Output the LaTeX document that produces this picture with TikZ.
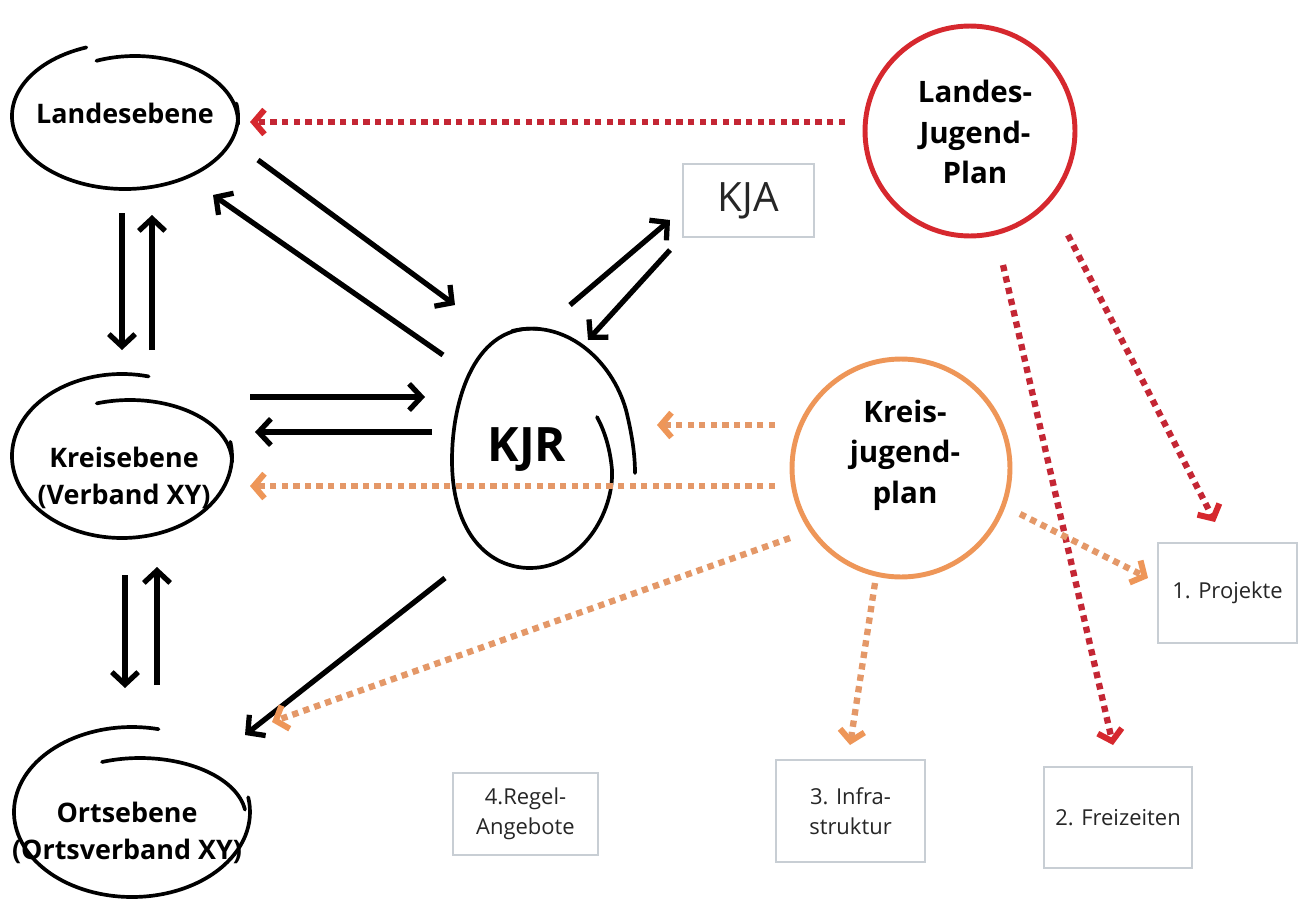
\documentclass[tikz,border=0pt]{standalone}
\usepackage{fontspec}
\setmainfont{Open Sans}
\usetikzlibrary{arrows.meta,calc}
\definecolor{lred}{RGB}{214,40,46}
\definecolor{dred}{RGB}{196,38,52}
\definecolor{lorange}{RGB}{238,150,88}
\definecolor{dorange}{RGB}{228,152,104}
\definecolor{boxgray}{RGB}{200,206,212}
\begin{document}
\begin{tikzpicture}[x=0.02cm,y=-0.02cm,
  scribble/.style={line width=2.1pt, line cap=round},
  lvl/.style={font=\bfseries\fontsize{15.3}{21.5}\selectfont, align=center, inner sep=0pt},
  plan/.style={circle, line width=2.8pt},
  plantext/.style={font=\bfseries\fontsize{16.8}{23}\selectfont, align=center, inner sep=0pt},
  tbox/.style={draw=boxgray, line width=1.1pt, align=center, inner sep=0pt, font=\fontsize{12.5}{17}\selectfont, text=black!85},
  blk/.style={line width=3pt, -{Straight Barb[length=7pt,width=15pt,line width=3pt]}},
  dotted red/.style={line width=3.6pt, color=dred, dash pattern=on 3.6pt off 3pt,
     -{Straight Barb[length=6pt,width=14pt,line width=3.4pt,color=lred]}},
  dotted orange/.style={line width=3.6pt, color=dorange, dash pattern=on 3.6pt off 3pt,
     -{Straight Barb[length=6pt,width=14pt,line width=3.4pt,color=lorange]}}
]
\useasboundingbox[fill=white] (0,0) rectangle (1298,906);

% level nodes
\node[lvl] (lande) at (125,113) {Landesebene};
\node[lvl] (kreis) at (124,478) {Kreisebene\\(Verband XY)};
\node[lvl] (orts) at (127,833) {Ortsebene\\(Ortsverband XY)};
\node[font=\bfseries\fontsize{27}{30}\selectfont, inner sep=0pt] (kjr) at (527,450) {KJR};

% hand drawn outlines
\draw[scribble] (125,116) ++(250:113 and 73) arc[start angle=250, end angle=-10, x radius=113, y radius=73];
\draw[scribble] (135,122) ++(248:103 and 66) arc[start angle=248, end angle=362, x radius=103, y radius=66];

\draw[scribble] (122,456) ++(284:110 and 82) arc[start angle=284, end angle=-10, x radius=110, y radius=82];
\draw[scribble] (130,462) ++(251:102 and 62) arc[start angle=251, end angle=360, x radius=102, y radius=62];

\draw[scribble] (132,812) ++(283:118 and 85) arc[start angle=283, end angle=-10, x radius=118, y radius=85];
\draw[scribble] (140,818) ++(249:106 and 60) arc[start angle=249, end angle=352, x radius=106, y radius=60];

% egg around KJR
\draw[scribble] (540,329) .. controls (475,322) and (452,400) .. (452,460)
  .. controls (452,535) and (490,568) .. (530,568)
  .. controls (582,568) and (614,512) .. (612,470)
  .. controls (610,447) and (604,430) .. (597,417);
\draw[scribble] (512,331) .. controls (565,318) and (612,360) .. (626,410)
  .. controls (633,438) and (635,458) .. (635,473);

% plan circles
\node[plan, draw=lred, minimum size=4.2cm] (ljp) at (970,131) {};
\node[plantext] (ljp-text) at (975,132) {Landes-\\Jugend-\\Plan};
\node[plan, draw=lorange, minimum size=4.36cm] (kjp) at (901,468) {};
\node[plantext] (kjp-text) at (905,455) {Kreis-\\jugend-\\plan};

% boxes
\node[tbox, minimum width=2.62cm, minimum height=1.46cm, font=\fontsize{23}{26}\selectfont] (kja) at (748.5,200.5) {KJA};
\node[tbox, minimum width=2.78cm, minimum height=2.0cm] (proj) at (1227.5,593) {1. Projekte};
\node[tbox, minimum width=2.96cm, minimum height=2.02cm] (frei) at (1118,817.5) {2. Freizeiten};
\node[tbox, minimum width=2.98cm, minimum height=2.04cm] (infra) at (850.5,811) {3. Infra-\\struktur};
\node[tbox, minimum width=2.9cm, minimum height=1.64cm] (regel) at (525.5,814) {4.Regel-\\Angebote};

% connector end points
\coordinate (lande-kjr-a) at (258,160);   \coordinate (lande-kjr-b) at (455,305);
\coordinate (kjr-lande-a) at (443,355);   \coordinate (kjr-lande-b) at (213,195);
\coordinate (lande-kreis-a) at (122,213); \coordinate (lande-kreis-b) at (122,350);
\coordinate (kreis-lande-a) at (152,350); \coordinate (kreis-lande-b) at (152,215);
\coordinate (kreis-kjr-a) at (250,397);   \coordinate (kreis-kjr-b) at (425,397);
\coordinate (kjr-kreis-a) at (432,432);   \coordinate (kjr-kreis-b) at (255,432);
\coordinate (kreis-orts-a) at (125,575);  \coordinate (kreis-orts-b) at (125,688);
\coordinate (orts-kreis-a) at (157,685);  \coordinate (orts-kreis-b) at (157,567);
\coordinate (kjr-orts-a) at (445,578);    \coordinate (kjr-orts-b) at (245,735);
\coordinate (kjr-kja-a) at (570,305);     \coordinate (kjr-kja-b) at (670,220);
\coordinate (kja-kjr-a) at (670,250);     \coordinate (kja-kjr-b) at (588,340);

\coordinate (ljp-lande-a) at (845,122);   \coordinate (ljp-lande-b) at (250,122);
\coordinate (ljp-frei-a) at (1003,265);   \coordinate (ljp-frei-b) at (1113,745);
\coordinate (ljp-proj-a) at (1068,235);   \coordinate (ljp-proj-b) at (1215,522);

\coordinate (kjp-kjr-a) at (775,425);     \coordinate (kjp-kjr-b) at (657,425);
\coordinate (kjp-kreis-a) at (775,486);   \coordinate (kjp-kreis-b) at (250,486);
\coordinate (kjp-orts-a) at (790,538);    \coordinate (kjp-orts-b) at (272,722);
\coordinate (kjp-infra-a) at (875,583);   \coordinate (kjp-infra-b) at (850,745);
\coordinate (kjp-proj-a) at (1020,514);   \coordinate (kjp-proj-b) at (1148,578);

% black arrows
\draw[blk] (lande-kjr-a) -- (lande-kjr-b);
\draw[blk] (kjr-lande-a) -- (kjr-lande-b);
\draw[blk] (lande-kreis-a) -- (lande-kreis-b);
\draw[blk] (kreis-lande-a) -- (kreis-lande-b);
\draw[blk] (kreis-kjr-a) -- (kreis-kjr-b);
\draw[blk] (kjr-kreis-a) -- (kjr-kreis-b);
\draw[blk] (kreis-orts-a) -- (kreis-orts-b);
\draw[blk] (orts-kreis-a) -- (orts-kreis-b);
\draw[blk] (kjr-orts-a) -- (kjr-orts-b);
\draw[blk] (kjr-kja-a) -- (kjr-kja-b);
\draw[blk] (kja-kjr-a) -- (kja-kjr-b);

% red dotted arrows
\draw[dotted red] (ljp-lande-a) -- (ljp-lande-b);
\draw[dotted red] (ljp-frei-a) -- (ljp-frei-b);
\draw[dotted red] (ljp-proj-a) -- (ljp-proj-b);

% orange dotted arrows
\draw[dotted orange] (kjp-kjr-a) -- (kjp-kjr-b);
\draw[dotted orange] (kjp-kreis-a) -- (kjp-kreis-b);
\draw[dotted orange] (kjp-orts-a) -- (kjp-orts-b);
\draw[dotted orange] (kjp-infra-a) -- (kjp-infra-b);
\draw[dotted orange] (kjp-proj-a) -- (kjp-proj-b);
\end{tikzpicture}
\end{document}
